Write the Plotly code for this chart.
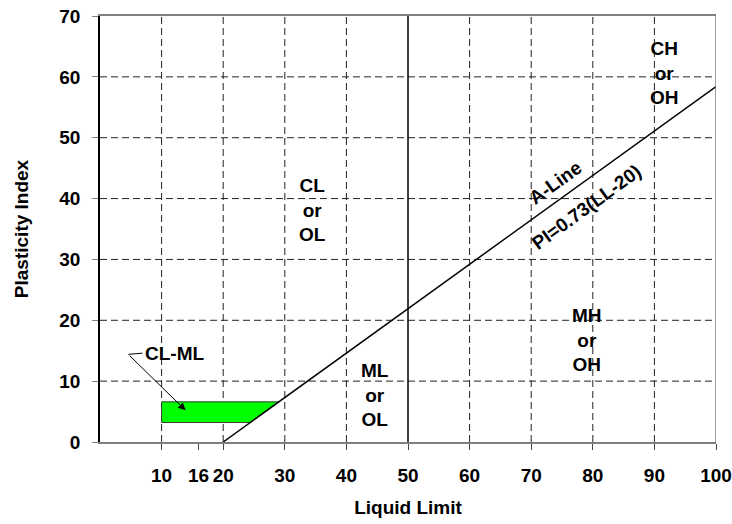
import plotly.graph_objects as go

# Plasticity chart (USCS): liquid limit vs plasticity index
x_ticks = [10, 16, 20, 30, 40, 50, 60, 70, 80, 90, 100]
x_grid = [10, 20, 30, 40, 60, 70, 80, 90]
y_ticks = [0, 10, 20, 30, 40, 50, 60, 70]
y_grid = [10, 20, 30, 40, 50, 60]

# A-line: PI = 0.73 (LL - 20)
a_slope = 0.73
a_offset = 20
a_line_ll = [20, 100]

# CL-ML zone: from LL = 10 out to the A-line, between these PI values
clml_ll_left = 10
clml_pi = [3.2, 6.6]

# Soil group labels (LL, PI, text)
zone_labels = [
    (34.5, 38.1, "CL<br>or<br>OL"),
    (44.7, 7.7, "ML<br>or<br>OL"),
    (79.0, 16.7, "MH<br>or<br>OH"),
    (91.7, 60.6, "CH<br>or<br>OH"),
]

FONT = "Liberation Sans, Arial, sans-serif"
FS = 19
GRID = "#222222"
FRAME = "#7f7f7f"


def a_line(ll):
    return a_slope * (ll - a_offset)


def a_line_ll_at(pi):
    return a_offset + pi / a_slope


def bold(size=FS):
    return dict(family=FONT, size=size, color="black", weight="bold")


fig = go.Figure()

# CL-ML shaded zone bounded on the right by the A-line
lo, hi = clml_pi
fig.add_trace(go.Scatter(
    x=[clml_ll_left, a_line_ll_at(lo), a_line_ll_at(hi), clml_ll_left, clml_ll_left],
    y=[lo, lo, hi, hi, lo],
    mode="lines", fill="toself", fillcolor="#00ff00",
    line=dict(color="#3a3a3a", width=1), hoverinfo="skip", showlegend=False,
))

# A-line
fig.add_trace(go.Scatter(
    x=a_line_ll, y=[a_line(v) for v in a_line_ll],
    mode="lines", line=dict(color="black", width=1.5),
    hoverinfo="skip", showlegend=False,
))

shapes = []
for v in x_grid:
    shapes.append(dict(type="line", xref="x", yref="y", x0=v, x1=v, y0=0, y1=70,
                       line=dict(color=GRID, width=1, dash="7px,4px"), layer="below"))
for v in y_grid:
    shapes.append(dict(type="line", xref="x", yref="y", x0=0, x1=100, y0=v, y1=v,
                       line=dict(color=GRID, width=1, dash="7px,4px"), layer="below"))
# LL = 50 divider
shapes.append(dict(type="line", xref="x", yref="y", x0=50, x1=50, y0=0, y1=70,
                   line=dict(color="black", width=1.5)))
# right frame edge
shapes.append(dict(type="line", xref="x", yref="y", x0=100, x1=100, y0=0, y1=70,
                   line=dict(color=FRAME, width=1.5)))
# leader stub for the CL-ML callout
shapes.append(dict(type="line", xref="x", yref="y", x0=4.6, x1=6.9, y0=14.4, y1=14.6,
                   line=dict(color="black", width=1)))

annotations = []
for ll, pi, txt in zone_labels:
    annotations.append(dict(x=ll, y=pi, text=txt, showarrow=False, font=bold()))

annotations += [
    dict(x=7.0, y=14.5, text="CL-ML", showarrow=False, xanchor="left", font=bold()),
    dict(x=13.9, y=5.2, ax=4.6, ay=14.4, axref="x", ayref="y", text="",
         showarrow=True, arrowhead=2, arrowsize=1.5, arrowwidth=1, arrowcolor="black"),
    dict(x=74.0, y=42.6, text="A-Line", showarrow=False, textangle=-36, font=bold()),
    dict(x=78.9, y=38.5, text="PI=0.73(LL-20)", showarrow=False, textangle=-36,
         font=bold()),
]

fig.update_layout(
    width=732, height=524,
    margin=dict(l=100, r=16, t=16, b=82, autoexpand=False),
    paper_bgcolor="white", plot_bgcolor="white",
    shapes=shapes, annotations=annotations,
    xaxis=dict(
        range=[0, 100], tickmode="array", tickvals=x_ticks,
        showgrid=False, zeroline=False, automargin=False,
        showline=True, linecolor=FRAME, linewidth=1.5, mirror=True,
        ticks="outside", ticklen=6, tickcolor="#444444", tickwidth=1,
        tickfont=bold(), ticklabelstandoff=9,
        title=dict(text="Liquid Limit", font=bold(), standoff=16),
    ),
    yaxis=dict(
        range=[0, 70], tickmode="array", tickvals=y_ticks,
        showgrid=False, zeroline=False, automargin=False,
        showline=True, linecolor="black", linewidth=1.5,
        ticks="outside", ticklen=6, tickcolor=FRAME, tickwidth=1,
        tickfont=bold(), ticklabelstandoff=8,
        title=dict(text="Plasticity Index", font=bold(), standoff=26),
    ),
)

fig.write_html("out.html")
